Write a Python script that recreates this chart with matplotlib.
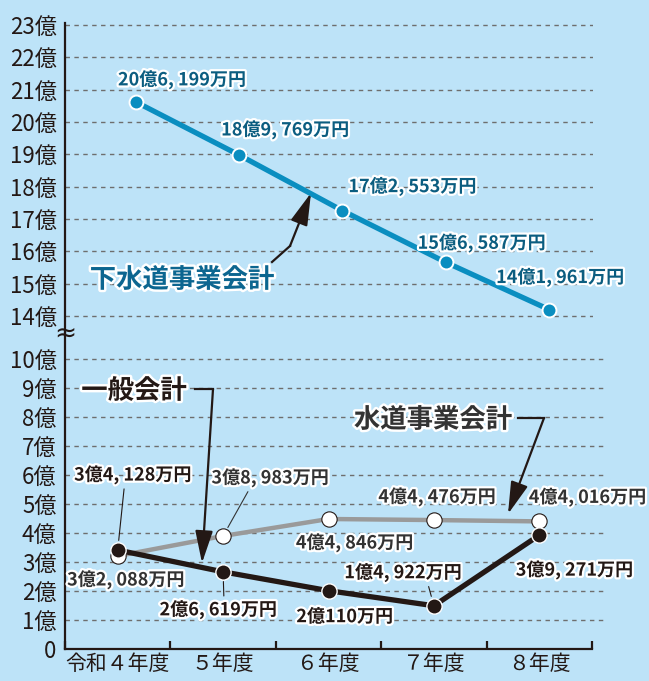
import matplotlib
matplotlib.use('Agg')
import matplotlib.pyplot as plt
import matplotlib.patheffects as pe
from matplotlib.lines import Line2D
from matplotlib.patches import FancyArrowPatch

plt.rcParams['font.family'] = ['Noto Sans CJK JP', 'DejaVu Sans']

# ---------------- data ----------------
years = ['令和４年度', '５年度', '６年度', '７年度', '８年度']
sewer = [20.6199, 18.9769, 17.2553, 15.6587, 14.1961]
sewer_labels = ['20億6, 199万円', '18億9, 769万円', '17億2, 553万円',
                '15億6, 587万円', '14億1, 961万円']
water = [3.2088, 3.8983, 4.4846, 4.4476, 4.4016]
water_labels = ['3億2, 088万円', '3億8, 983万円', '4億4, 846万円',
                '4億4, 476万円', '4億4, 016万円']
general = [3.4128, 2.6619, 2.0110, 1.4922, 3.9271]
general_labels = ['3億4, 128万円', '2億6, 619万円', '2億110万円',
                  '1億4, 922万円', '3億9, 271万円']
upper_ticks = list(range(14, 24))
lower_ticks = list(range(0, 11))
series_names = ['下水道事業会計', '一般会計', '水道事業会計']

# ---------------- style ----------------
BG = '#bde3f8'
SEWER = '#0a8ec0'
SEWER_TXT = '#0b5d80'
GRAY = '#9a9a9a'
BLACK = '#231815'
WATER_TXT = '#333333'
GRID = '#6e6e6e'

W, H = 649, 681
fig = plt.figure(figsize=(W / 100, H / 100), dpi=100)
fig.patch.set_facecolor(BG)


def fx(px):
    return px / W


def fy(py):
    return 1 - py / H


outline = [pe.withStroke(linewidth=3.2, foreground='white')]

# upper axes (14億 - 23億)
ax1 = fig.add_axes([fx(65), fy(333), fx(593) - fx(65), fy(23) - fy(333)])
# lower axes (0 - 10億)
ax2 = fig.add_axes([fx(65), fy(649), fx(607) - fx(65), fy(333) - fy(649)])

for ax in (ax1, ax2):
    ax.set_facecolor('none')
    for s in ('top', 'right'):
        ax.spines[s].set_visible(False)
    ax.spines['left'].set_linewidth(1.6)
    ax.spines['left'].set_color(BLACK)

ax1.spines['bottom'].set_visible(False)
ax1.set_xlim(-0.685, 4.426)
ax1.set_ylim(13.47, 23.06)
ax1.set_xticks([])
ax1.set_yticks(upper_ticks)
ax1.set_yticklabels([f'{v}億' for v in upper_ticks])
for v in upper_ticks:
    ax1.axhline(v, color=GRID, lw=1.0, ls=(0, (3.2, 3.2)), zorder=1)

ax2.set_xlim(-0.5, -0.5 + (607 - 65) / 105.4)
ax2.set_ylim(0, 10.9)
ax2.spines['bottom'].set_bounds(-0.5, 4.5)
ax2.spines['bottom'].set_linewidth(1.6)
ax2.spines['bottom'].set_color(BLACK)
ax2.set_yticks(lower_ticks)
ax2.set_yticklabels(['0' if v == 0 else f'{v}億' for v in lower_ticks])
for v in lower_ticks[1:]:
    ax2.axhline(v, color=GRID, lw=1.0, ls=(0, (3.2, 3.2)), zorder=1)
xs = list(range(len(years)))
ax2.set_xticks([i - 0.5 for i in range(len(years) + 1)])
ax2.set_xticklabels([''] * (len(years) + 1))
ax2.set_xticks(xs, minor=True)
ax2.set_xticklabels(years, minor=True)
ax2.tick_params(axis='x', which='major', direction='in', length=6, width=1.6,
                color=BLACK)
ax2.tick_params(axis='x', which='minor', length=0, pad=3, labelsize=15,
                labelcolor=BLACK)

for ax in (ax1, ax2):
    ax.tick_params(axis='y', length=0, pad=6, labelsize=16, labelcolor=BLACK)

# break mark
fig.text(fx(65), fy(334), '≈', ha='center', va='center', fontsize=19,
         color=BLACK, family=['DejaVu Sans'])

# ---------------- lines ----------------
ax1.plot(xs, sewer, color=SEWER, lw=3.8, marker='o', ms=10, mfc=SEWER,
         mec='white', mew=1.4, zorder=4, clip_on=False)
ax2.plot(xs, water, color=GRAY, lw=3.2, marker='o', ms=11, mfc='white',
         mec=BLACK, mew=0.8, zorder=4, clip_on=False)
ax2.plot(xs, general, color=BLACK, lw=3.8, marker='o', ms=11, mfc=BLACK,
         mec='white', mew=1.0, zorder=5, clip_on=False)

# ---------------- value labels ----------------
sewer_off = [(46, 22), (46, 25), (70, 24), (36, 19), (11, 32)]
for i, (v, t) in enumerate(zip(sewer, sewer_labels)):
    ax1.annotate(t, (i, v), xytext=sewer_off[i], textcoords='offset pixels',
                 ha='center', va='center', fontsize=13, fontweight='bold',
                 color=SEWER_TXT, path_effects=outline, zorder=6)

general_off = [(15, 75), (-5, -38), (16, -26), (-31, 33), (35, -35)]
general_lead = [(0.43, 0), (0.55, 1), None, (0.71, 0), None]
for i, (v, t) in enumerate(zip(general, general_labels)):
    kw = {}
    if general_lead[i] is not None:
        kw['arrowprops'] = dict(arrowstyle='-', lw=0.8, color=BLACK,
                                relpos=general_lead[i], shrinkA=1, shrinkB=7)
    ax2.annotate(t, (i, v), xytext=general_off[i], textcoords='offset pixels',
                 ha='center', va='center', fontsize=13, fontweight='bold',
                 color=BLACK, path_effects=outline, zorder=7, **kw)

water_off = [(8, -24), (47, 58), (26, -24), (3, 23), (48, 24)]
water_lead = [None, (0.33, 0), None, None, None]
for i, (v, t) in enumerate(zip(water, water_labels)):
    kw = {}
    if water_lead[i] is not None:
        kw['arrowprops'] = dict(arrowstyle='-', lw=0.8, color=WATER_TXT,
                                relpos=water_lead[i], shrinkA=1, shrinkB=7)
    ax2.annotate(t, (i, v), xytext=water_off[i], textcoords='offset pixels',
                 ha='center', va='center', fontsize=13, fontweight='bold',
                 color=WATER_TXT, path_effects=outline, zorder=7, **kw)

# ---------------- callouts ----------------
def callout(text, center, pts, color, txtcolor):
    fig.text(fx(center[0]), fy(center[1]), text, ha='center', va='center',
             fontsize=19, fontweight='bold', color=txtcolor,
             path_effects=[pe.withStroke(linewidth=3.5, foreground='white')],
             zorder=8)
    xs_ = [fx(p[0]) for p in pts[:-1]]
    ys_ = [fy(p[1]) for p in pts[:-1]]
    if len(xs_) > 1:
        fig.add_artist(Line2D(xs_, ys_, color=color, lw=1.6,
                              transform=fig.transFigure, zorder=8))
    a, b = pts[-2], pts[-1]
    fig.add_artist(FancyArrowPatch((fx(a[0]), fy(a[1])), (fx(b[0]), fy(b[1])),
                                   transform=fig.transFigure,
                                   arrowstyle='-|>,head_length=1.1,head_width=0.3',
                                   mutation_scale=18, lw=1.6, color=color,
                                   shrinkA=0, shrinkB=0, zorder=8))


callout(series_names[0], (182, 280), [(272, 262), (290, 246), (311, 193)],
        BLACK, '#0c6690')
callout(series_names[1], (134, 391), [(195, 389), (213, 389), (202, 563)],
        BLACK, BLACK)
callout(series_names[2], (433, 420), [(518, 418), (544, 418), (508, 514)],
        BLACK, WATER_TXT)

fig.savefig('out.png', dpi=100, facecolor=BG)
